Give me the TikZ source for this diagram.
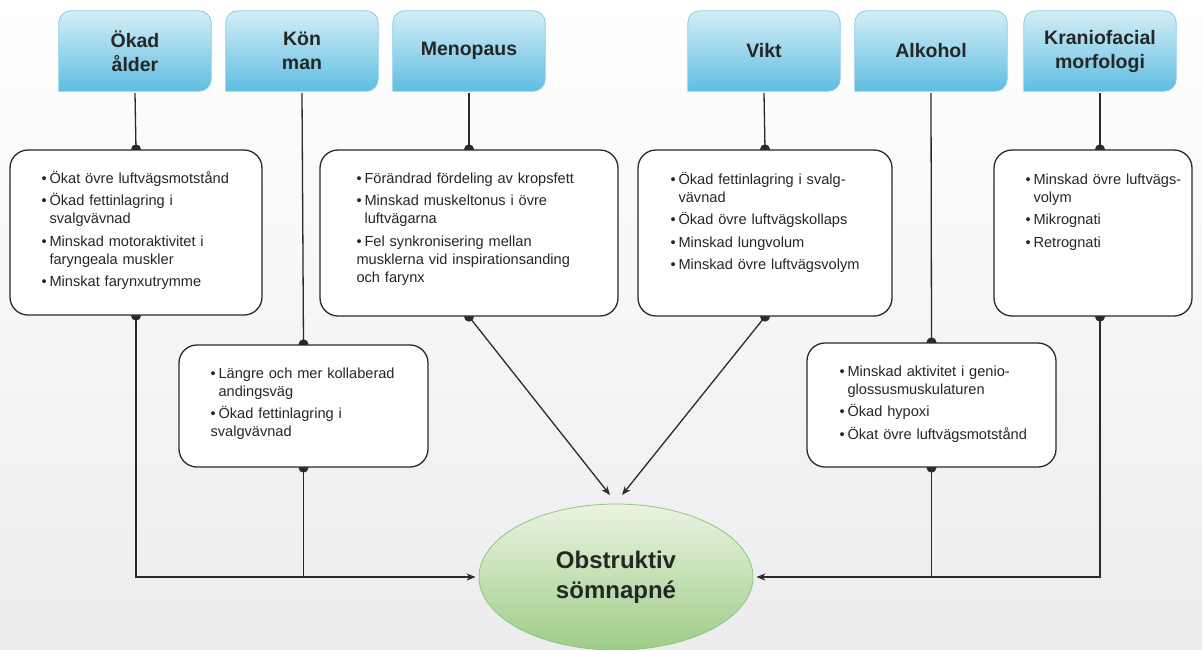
\documentclass[tikz,border=0pt]{standalone}
\usepackage{fontspec}
\setmainfont{Liberation Sans}
\usetikzlibrary{positioning,arrows.meta,shapes.geometric}
\definecolor{riskblue}{HTML}{5FBDE2}
\definecolor{riskpale}{HTML}{D4EEF6}
\definecolor{riskedge}{HTML}{86CBEA}
\definecolor{osagreen}{HTML}{9ECD87}
\definecolor{osapale}{HTML}{EAF3E2}
\definecolor{osaedge}{HTML}{8CC777}
\definecolor{linegrey}{HTML}{2A2A2A}
\definecolor{bgbottom}{HTML}{ECECEE}
\newcommand{\itm}[1]{\par\hangindent=8pt\hangafter=1\noindent\rule{0pt}{13pt}\makebox[8pt][l]{\textbullet}#1}
\pgfdeclarelayer{back}
\pgfdeclarelayer{wires}
\pgfsetlayers{back,wires,main}

\begin{document}
\begin{tikzpicture}[x=1pt, y=-1pt,
  risk/.style={minimum width=152pt, minimum height=80pt, inner sep=0pt, align=center,
    font=\fontsize{19.5}{24}\selectfont\bfseries, text=black!85},
  infobox/.style={draw=linegrey, line width=1.3pt, fill=white, rounded corners=18pt, inner sep=0pt},
  items/.style={inner sep=0pt, text width=250pt, align=left, anchor=north west,
    font=\fontsize{14.6}{18}\selectfont, execute at begin node={\setlength{\parskip}{4.5pt}}, text=black!85},
  wire/.style={linegrey, line width=1.3pt},
  joint/.style={fill=linegrey, circle, inner sep=0pt, minimum size=10pt},
  tip/.style={-{Stealth[length=9pt, width=7pt]}}]
  \useasboundingbox (0,0) rectangle (1202,649);

  % risk factors
  \node[risk] (age)  at (135,51)  {Ökad\\ålder};
  \node[risk] (sex)  at (302,51)  {Kön\\man};
  \node[risk] (meno) at (469,51)  {Menopaus};
  \node[risk] (wt)   at (764,51)  {Vikt};
  \node[risk] (alc)  at (931,51)  {Alkohol};
  \node[risk] (kran) at (1100,51) {Kraniofacial\\morfologi};

  % mechanisms
  \node[infobox, minimum width=252pt, minimum height=165pt] (b1) at (136,232.5) {};
  \node[infobox, minimum width=249pt, minimum height=122pt] (b2) at (303.5,406) {};
  \node[infobox, minimum width=298pt, minimum height=166pt] (b3) at (469,233) {};
  \node[infobox, minimum width=254pt, minimum height=166pt] (b4) at (765,233) {};
  \node[infobox, minimum width=198pt, minimum height=166pt] (b5) at (1093,233) {};
  \node[infobox, minimum width=249pt, minimum height=124pt] (b6) at (931.5,405) {};

  \node[items, below right=11pt and 32pt of b1.north west] (t1) {%
    \itm{Ökat övre luftvägsmotstånd}
    \itm{Ökad fettinlagring i\newline svalgvävnad}
    \itm{Minskad motoraktivitet i\newline faryngeala muskler}
    \itm{Minskat farynxutrymme}};
  \node[items, below right=11pt and 32pt of b2.north west] (t2) {%
    \itm{Längre och mer kollaberad\newline andingsväg}
    \itm{Ökad fettinlagring i\newline svalgvävnad}};
  \node[items, below right=11pt and 37pt of b3.north west] (t3) {%
    \itm{Förändrad fördeling av kropsfett}
    \itm{Minskad muskeltonus i övre\newline luftvägarna}
    \itm{Fel synkronisering mellan\newline musklerna vid inspirationsanding\newline och farynx}};
  \node[items, below right=12pt and 33pt of b4.north west] (t4) {%
    \itm{Ökad fettinlagring i svalg-\newline vävnad}
    \itm{Ökad övre luftvägskollaps}
    \itm{Minskad lungvolum}
    \itm{Minskad övre luftvägsvolym}};
  \node[items, below right=12pt and 32pt of b5.north west] (t5) {%
    \itm{Minskad övre luftvägs-\newline volym}
    \itm{Mikrognati}
    \itm{Retrognati}};
  \node[items, below right=11pt and 33pt of b6.north west] (t6) {%
    \itm{Minskad aktivitet i genio-\newline glossusmuskulaturen}
    \itm{Ökad hypoxi}
    \itm{Ökat övre luftvägsmotstånd}};

  % outcome
  \node[ellipse, minimum width=274pt, minimum height=146pt, top color=osapale, bottom color=osagreen,
    draw=osaedge, line width=0.8pt, align=center, font=\fontsize{24}{30}\selectfont\bfseries,
    text=black!85] (osa) at (616,577) {Obstruktiv\\sömnapné};
  \coordinate (tipL) at (610,495);
  \coordinate (tipR) at (622,495);

  \begin{pgfonlayer}{back}
    \shade[top color=white, bottom color=bgbottom] (0,0) rectangle (1202,649);
    \foreach \n in {age,sex,meno,wt,alc,kran}
      \shade[top color=riskpale, bottom color=riskblue, draw=riskedge, line width=0.8pt]
        (\n.south west) [rounded corners=12pt] -- (\n.north west) -- (\n.north east)
        -- (\n.south east) [sharp corners] -- cycle;
  \end{pgfonlayer}

  \begin{pgfonlayer}{wires}
    \draw[wire] ([yshift=-2pt]age.south) -- (b1.north);
    \draw[wire] ([yshift=-2pt]sex.south) -- (b2.north);
    \draw[wire] ([yshift=-2pt]meno.south) -- (b3.north);
    \draw[wire] ([yshift=-2pt]wt.south) -- (b4.north);
    \draw[wire] ([yshift=-2pt]alc.south) -- (b6.north);
    \draw[wire] ([yshift=-2pt]kran.south) -- (kran.south |- b5.north);
    \draw[wire, tip, shorten >=3pt] (b1.south) -- (b1.south |- osa.west) -- (osa.west);
    \draw[wire] (b2.south) -- (b2.south |- osa.west);
    \draw[wire, tip] (b3.south) -- (tipL);
    \draw[wire, tip] (b4.south) -- (tipR);
    \draw[wire, tip, shorten >=3pt] (kran.south |- b5.south) -- (kran.south |- osa.east) -- (osa.east);
    \draw[wire] (b6.south) -- (b6.south |- osa.east);
    \foreach \p in {b1.north,b2.north,b3.north,b4.north,b6.north,b1.south,b2.south,b3.south,b4.south,b6.south}
      \node[joint] at (\p) {};
    \node[joint] at (kran.south |- b5.north) {};
    \node[joint] at (kran.south |- b5.south) {};
  \end{pgfonlayer}
\end{tikzpicture}
\end{document}
